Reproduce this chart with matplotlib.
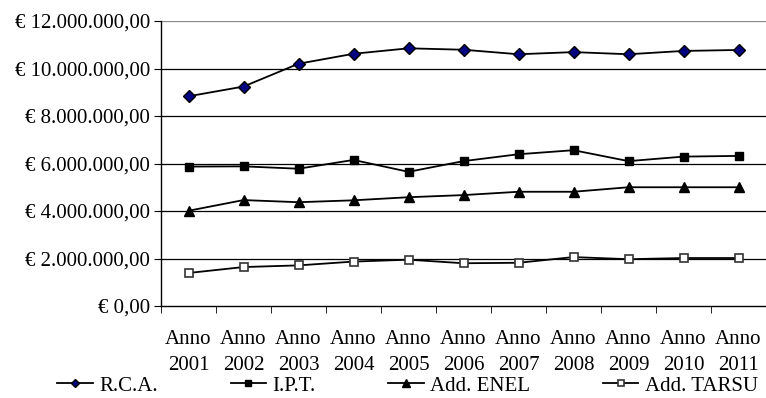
import matplotlib
matplotlib.use("Agg")
import matplotlib.pyplot as plt
from matplotlib.ticker import FuncFormatter, FixedLocator

categories = ["Anno\n2001", "Anno\n2002", "Anno\n2003", "Anno\n2004", "Anno\n2005", "Anno\n2006",
              "Anno\n2007", "Anno\n2008", "Anno\n2009", "Anno\n2010", "Anno\n2011"]
rca = [8830000, 9240000, 10200000, 10620000, 10850000, 10790000, 10600000, 10690000, 10600000, 10740000, 10780000]
ipt = [5870000, 5880000, 5780000, 6150000, 5650000, 6100000, 6390000, 6560000, 6100000, 6290000, 6320000]
enel = [4010000, 4460000, 4370000, 4450000, 4580000, 4670000, 4810000, 4810000, 5000000, 5000000, 5000000]
tarsu = [1390000, 1640000, 1710000, 1870000, 1950000, 1800000, 1820000, 2060000, 1970000, 2020000, 2020000]
series_names = ["R.C.A.", "I.P.T.", "Add. ENEL", "Add. TARSU"]
y_ticks = [0, 2000000, 4000000, 6000000, 8000000, 10000000, 12000000]

plt.rcParams['font.family'] = ['Liberation Serif', 'DejaVu Serif']
FS = 15
plt.rcParams['font.size'] = FS

fig = plt.figure(figsize=(7.66, 3.98), dpi=100)
ax = fig.add_axes([161/766, 1-306/398, 1-161/766, (306-21)/398])

x = list(range(len(categories)))
ax.plot(x, rca, color='black', lw=1.3, marker='D', ms=6, mfc='#000080', mec='black', mew=1, label=series_names[0])
ax.plot(x, ipt, color='black', lw=1.3, marker='s', ms=6.2, mfc='black', mec='black', label=series_names[1])
ax.plot(x, enel, color='black', lw=1.3, marker='^', ms=7, mfc='black', mec='black', label=series_names[2])
ax.plot(x, tarsu, color='black', lw=1.3, marker='s', ms=5.5, mfc='white', mec='#333333', mew=1.2, label=series_names[3])

ax.set_xlim(-0.5, len(categories) - 0.5)
ax.set_ylim(0, 12000000)
ax.set_yticks(y_ticks)
def fmt(v, pos):
    s = f"{v:,.2f}".replace(",", "X").replace(".", ",").replace("X", ".")
    return "€ " + s
ax.yaxis.set_major_formatter(FuncFormatter(fmt))
for yt in y_ticks[1:]:
    ax.axhline(yt, color='black' if yt < 12000000 else '#888888', lw=0.9, zorder=0)

ax.set_xticks(x)
ax.set_xticklabels(categories, linespacing=1.5)
ax.tick_params(axis='x', which='major', length=0, pad=17)
ax.xaxis.set_minor_locator(FixedLocator([i - 0.5 for i in range(len(categories) + 1)]))
ax.tick_params(axis='x', which='minor', length=5, direction='out', color='black')
ax.tick_params(axis='y', length=5, direction='out', pad=3)

for s in ['top', 'right']:
    ax.spines[s].set_visible(False)
for s in ['left', 'bottom']:
    ax.spines[s].set_linewidth(1.0)
    ax.spines[s].set_color('black')

fig.legend(loc='center', bbox_to_anchor=(0.532, 1-386/398), ncol=4, frameon=False,
           handlelength=1.7, columnspacing=3.5, handletextpad=0.3, markerscale=0.75, fontsize=FS)

fig.savefig("out.png", dpi=100)
